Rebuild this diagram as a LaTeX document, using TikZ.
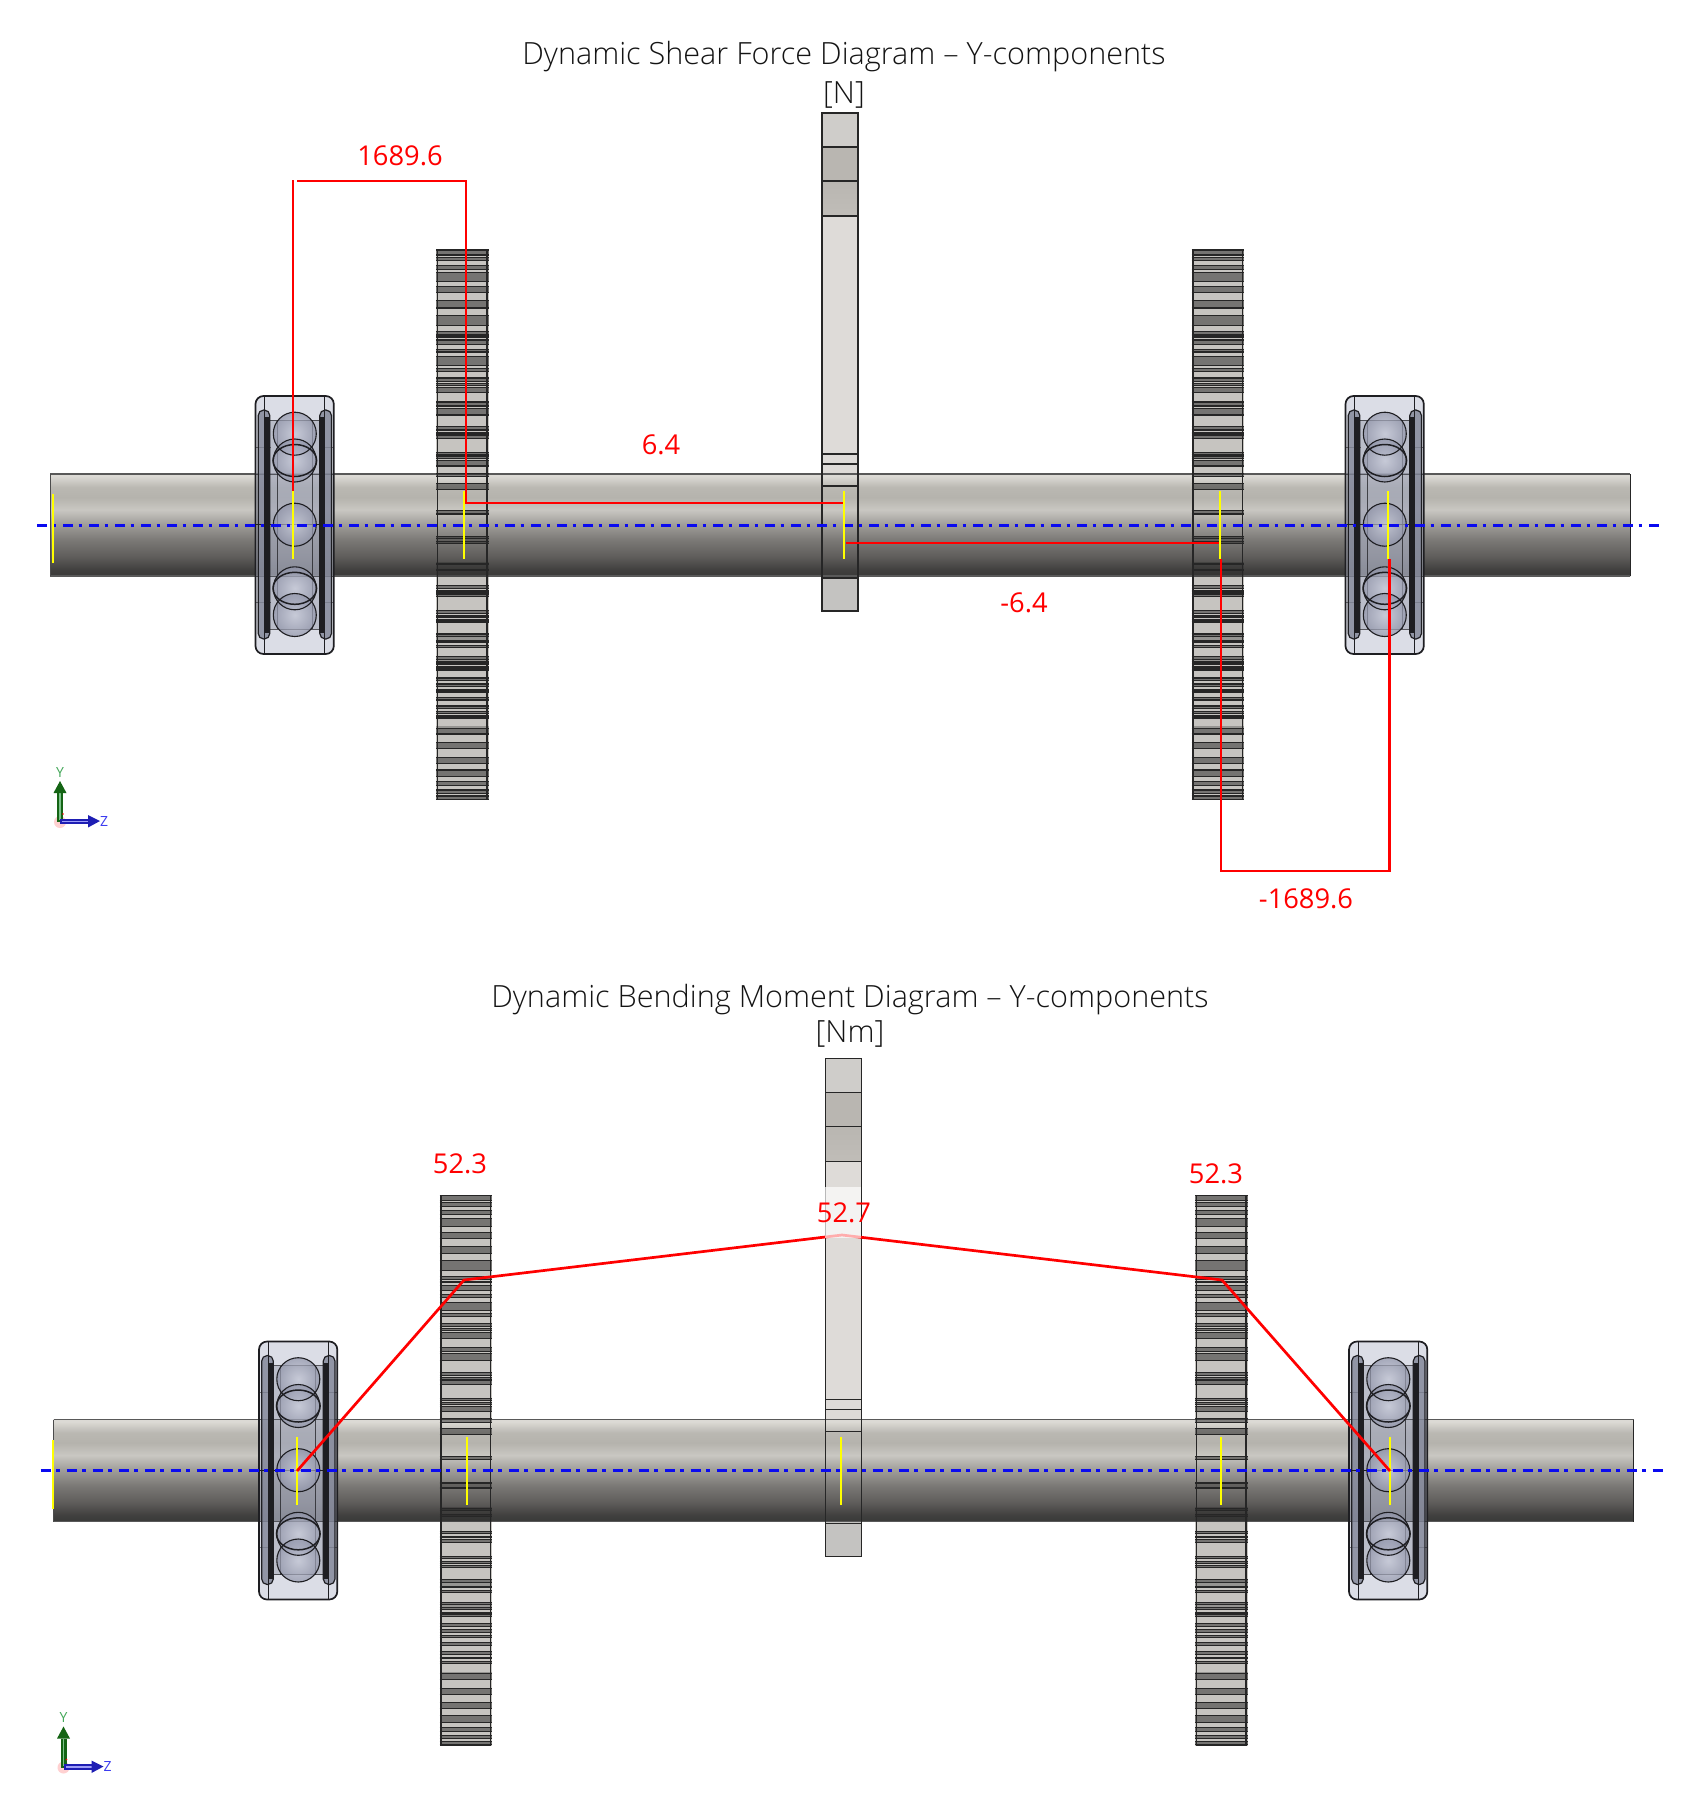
\documentclass[tikz,border=0pt]{standalone}
\usepackage{fontspec}
\setmainfont{Open Sans}
\newfontfamily\lightfont{Open Sans}[UprightFont=* Light]
\definecolor{sa}{HTML}{DCDAD5}\definecolor{sb}{HTML}{BAB8B2}\definecolor{sc}{HTML}{B5B3AD}
\definecolor{sd}{HTML}{C9C7C2}\definecolor{se}{HTML}{A09E9A}\definecolor{sf}{HTML}{7A7875}
\definecolor{sg}{HTML}{5F5D5B}\definecolor{sh}{HTML}{403F3E}\definecolor{si}{HTML}{3A3A39}
\definecolor{gearlight}{HTML}{C6C4C0}\definecolor{geardark}{HTML}{262626}
\definecolor{wheel}{HTML}{DEDBD8}\definecolor{wheelb}{HTML}{CFCDCA}\definecolor{wheelc}{HTML}{B9B6B1}
\definecolor{wheeld}{HTML}{C4C3C1}\definecolor{wheele}{HTML}{C0BDB8}
\definecolor{race}{HTML}{C5C9D8}\definecolor{raced}{HTML}{7F8395}\definecolor{edge}{HTML}{1E1E22}
\definecolor{ballin}{HTML}{CDD0DE}\definecolor{ballout}{HTML}{8F93A8}
\definecolor{dred}{HTML}{FF0000}\definecolor{dyellow}{HTML}{FFFF00}\definecolor{dblue}{HTML}{0A0AF0}
\definecolor{ygreen}{HTML}{146414}\definecolor{ygreent}{HTML}{45A85A}\definecolor{zblue}{HTML}{1E1EB4}\definecolor{zbluet}{HTML}{3C3CF0}
\pgfdeclareverticalshading{shaftshade}{100bp}{color(0bp)=(si);color(25bp)=(si);color(28bp)=(sh);color(34.5bp)=(sg);color(42.5bp)=(sf);color(50.5bp)=(se);color(57.5bp)=(sd);color(63.5bp)=(sc);color(68.5bp)=(sb);color(74bp)=(sa);color(75bp)=(sa);color(100bp)=(sa)}
\pgfdeclareverticalshading{wheelshade}{100bp}{color(0bp)=(wheele);color(25bp)=(wheele);color(75bp)=(wheelc);color(100bp)=(wheelc)}
\tikzset{
  redline/.style={draw=dred,line width=2.7pt,line cap=butt,line join=miter},
  yellowline/.style={draw=dyellow,line width=2.7pt},
  axisline/.style={draw=dblue,line width=3pt,dash pattern=on 10pt off 5.5pt on 3.5pt off 7pt},
  redlabel/.style={text=dred,font=\fontsize{27.3}{30}\selectfont,inner sep=0pt},
  titlelabel/.style={text=black!92,font=\lightfont\fontsize{30.6}{34}\selectfont,inner sep=0pt},
  ball/.style={inner color=ballin,outer color=ballout},
  ballline/.style={draw=edge,line width=1.1pt},
}
% toothed gear: cross-bands over the base, drawn after the shaft
\newcommand{\gearband}[4]{% x, base, from, to
  \fill[geardark,opacity=.5] (#1,#2+#3/3) rectangle ++(52.5,{(#4-#3)/3});
  \draw[geardark,line width=1.1pt] (#1,#2+#3/3) -- ++(52.5,0) (#1,#2+#4/3) -- ++(52.5,0);
}
\newcommand{\gearbase}[1]{\fill[gearlight] (#1,250) rectangle ++(52.5,550);}
\newcommand{\gearbands}[1]{%
  \foreach \a/\b in {30/45,52/62,76/88,98/124,140/158,182/204,226/256,274/283,288/292,300/314,328/336,350/376,385/394,414/424,430/436,442/458,486/498,505/525,560/570,577/582,586/596,638/645,650/656,662/678,700/710,730/748,812/822}
    {\gearband{#1}{240}{\a}{\b}}
  \foreach \a/\b in {50/55,65/70,130/134,148/152,197/205,212/216,222/230,272/280,288/293,300/306,342/350,362/366,376/382,410/418,426/432,440/444,448/452,474/482,492/500,510/516,532/540,558/566,575/580,588/594,625/642,668/686,712/730,750/770,785/797,810/820,828/838}
    {\gearband{#1}{520}{\a}{\b}}
  \foreach \a/\b in {55/65,125/170,350/362,418/426,618/625}
    {\fill[geardark,opacity=.3] (#1,520+\a/3) rectangle ++(52.5,{(\b-\a)/3});}
  \draw[geardark,line width=1.8pt] (#1+1.5,250) rectangle ++(49.5,549.5);
}
\newcommand{\bearing}[1]{%
  \begin{scope}[shift={(#1,0)}]
    \draw[edge,line width=1.7pt,fill=race,fill opacity=.62,rounded corners=8pt] (-39,396) rectangle (39.3,654);
    \fill[raced,opacity=.35] (-24.7,420) rectangle (25.3,629);
    \draw[edge,line width=.7pt,opacity=.7] (-24.7,420) -- (25.3,420) (-24.7,629) -- (25.3,629);
    \draw[edge,line width=.9pt,opacity=.75] (-17.3,420) -- (-17.3,629) (17.7,420) -- (17.7,629);
    \draw[edge,line width=.8pt,opacity=.55] (-39,447) -- (-24,447) (26,447) -- (39,447) (-39,602) -- (-24,602) (26,602) -- (39,602) (-39,474) -- (39,474) (-39,576) -- (39,576);
    \draw[edge,line width=1.2pt,fill=raced,fill opacity=.8,rounded corners=5.5pt] (-36.3,410) rectangle (-24.7,639);
    \draw[edge,line width=1.2pt,fill=raced,fill opacity=.8,rounded corners=5.5pt] (25.3,410) rectangle (37,639);
    \fill[edge] (-29.7,417) rectangle (-24.7,633);
    \fill[edge] (25.3,417) rectangle (30.3,633);
    \draw[edge,line width=1.1pt] (-29.7,396) -- (-29.7,654) (30.3,396) -- (30.3,654);
    \draw[edge,line width=1.3pt] (-39,524.7) -- (39,524.7);
    \foreach \cy in {433.7,460.5,524.7,588.3,615}
      {\shade[ball,opacity=.7] (0.3,\cy) circle[radius=21.5];}
    \foreach \cy in {433.7,460.5,524.7,588.3,615}
      {\draw[ballline] (0.3,\cy) circle[radius=21.5];}
    \draw[ballline,line width=1.5pt] (0.3,460.5) ellipse[x radius=21.8,y radius=16];
    \draw[ballline,line width=1.5pt] (0.3,588.3) ellipse[x radius=21.8,y radius=16];
  \end{scope}
}
\newcommand{\assembly}{%
  \gearbase{436}\gearbase{1191.5}
  % central wheel
  \fill[wheel] (822,216) rectangle (858,474);
  \fill[wheelb] (822,113) rectangle (858,147);
  \fill[wheelc] (822,147) rectangle (858,181);
  \shade[shading=wheelshade] (822,181) rectangle (858,216);
  \fill[wheeld] (822,576) rectangle (858,611);
  % shaft
  \shade[shading=shaftshade] (50,474) rectangle (1630,576);
  \draw[black!65,line width=1.4pt] (50,474) -- (1630,474);
  \draw[black!65,line width=1.4pt] (50,576) -- (1630,576);
  \draw[black!85,line width=1pt] (1630,474) -- (1630,576);
  \draw[black!70,line width=1pt] (50,474) -- (50,576);
  % wheel outline over shaft
  \draw[geardark,line width=1.8pt] (822,113) rectangle (858,611);
  \draw[geardark,line width=1.1pt] (822,147) -- (858,147) (822,181) -- (858,181) (822,216) -- (858,216) (822,454) -- (858,454) (822,486) -- (858,486);
  \draw[geardark,line width=1.8pt] (822,464) -- (858,464) (822,578) -- (858,578);
  \gearbands{436}\gearbands{1191.5}
  \bearing{294.5}\bearing{1384.5}
  % coordinate triad
  \fill[red!18] (60,822) circle[radius=6];
  \fill[ygreen] (57,793) rectangle (63,822);
  \fill[ygreent!70!white] (59.2,793) rectangle (60.8,820);
  \fill[ygreen] (53.5,793) -- (60,781) -- (66.5,793) -- cycle;
  \fill[zblue] (60,818.5) rectangle (88,824);
  \fill[zbluet!50!white] (62,820.8) rectangle (88,822);
  \fill[zblue] (88,815) -- (100,821) -- (88,827.5) -- cycle;
  \fill[red] (63,814) circle[radius=.8];
}
\begin{document}
\begin{tikzpicture}[x=1pt,y=-1pt]
\useasboundingbox (0,0) rectangle (1692,1810);
\fill[white] (0,0) rectangle (1692,1810);
% upper diagram
\assembly
\node[text=ygreent,font=\fontsize{14}{16}\selectfont,inner sep=0pt] (yu) at (60,772) {Y};
\node[text=zbluet,font=\fontsize{14}{16}\selectfont,inner sep=0pt] (zu) at (104,821) {Z};
\draw[axisline] (37,525) -- (1662,525);
\foreach \x in {293,464,844,1220,1388} {\draw[yellowline] (\x,491) -- (\x,559);}
\draw[yellowline] (53,494) -- (53,563);
\draw[redline] (293,491) -- (293,180);
\draw[redline] (297,181) -- (466,181) -- (466,503) -- (843,503);
\draw[redline] (846,543) -- (1219,543);
\draw[redline] (1221,559) -- (1221,871) -- (1389.5,871) -- (1389.5,559);
\node[titlelabel] (t1) at (844,57) {Dynamic Shear Force Diagram – Y-components};
\node[titlelabel] (u1) at (844,95) {[N]};
\node[redlabel] (l1) at (400,156) {1689.6};
\node[redlabel] (l2) at (661,445) {6.4};
\node[redlabel] (l3) at (1024,603) {-6.4};
\node[redlabel] (l4) at (1306,899) {-1689.6};
% lower diagram
\begin{scope}[shift={(3.5,945.5)}]
\assembly
\node[text=ygreent,font=\fontsize{14}{16}\selectfont,inner sep=0pt] (yl) at (60,772) {Y};
\node[text=zbluet,font=\fontsize{14}{16}\selectfont,inner sep=0pt] (zl) at (104,821) {Z};
\draw[axisline] (37,525) -- (1662,525);
\end{scope}
\foreach \x in {297,467,841,1221,1390} {\draw[yellowline] (\x,1437) -- (\x,1505);}
\draw[yellowline] (53,1440) -- (53,1509);
\draw[redline,line join=round] (297,1471) -- (464,1280) -- (842,1235) -- (1222,1280) -- (1390,1471);
\fill[white,opacity=.68] (825,1187) rectangle (861,1238);
\node[titlelabel] (t2) at (850,1000) {Dynamic Bending Moment Diagram – Y-components};
\node[titlelabel] (u2) at (850,1034) {[Nm]};
\node[redlabel] (m1) at (460,1164) {52.3};
\node[redlabel] (m2) at (844,1213) {52.7};
\node[redlabel] (m3) at (1216,1174) {52.3};
\end{tikzpicture}
\end{document}
